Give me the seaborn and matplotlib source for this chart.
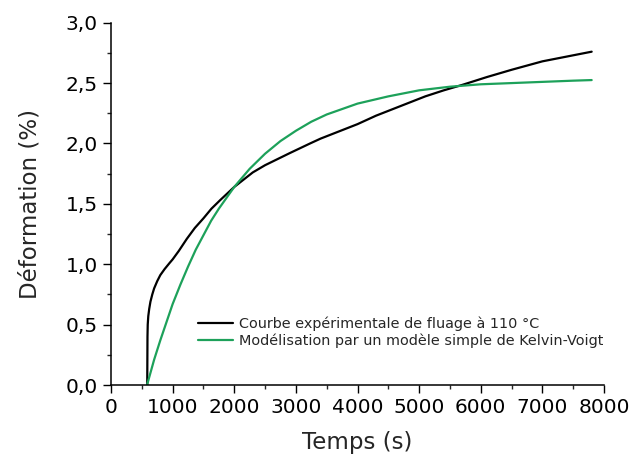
import numpy as np
import pandas as pd
import matplotlib
matplotlib.use("Agg")
import matplotlib.pyplot as plt
import seaborn as sns

# ---- data ----
t_exp = [588, 590, 592, 596, 605, 620, 640, 670, 700, 750, 800, 870, 950, 1000,
         1100, 1230, 1360, 1500, 1630, 1770, 2000, 2150, 2300, 2500, 2700, 2900,
         3230, 3400, 3700, 4000, 4300, 4700, 5100, 5400, 5700, 6100, 6500, 6750,
         7000, 7400, 7800]
eps_exp = [0.00, 0.20, 0.40, 0.50, 0.57, 0.63, 0.69, 0.75, 0.80, 0.86, 0.91, 0.96,
           1.01, 1.04, 1.11, 1.21, 1.30, 1.38, 1.46, 1.53, 1.64, 1.70, 1.76, 1.82,
           1.87, 1.92, 2.00, 2.04, 2.10, 2.16, 2.23, 2.31, 2.39, 2.44, 2.485, 2.55,
           2.61, 2.645, 2.68, 2.72, 2.76]

t_mod = [585, 700, 800, 900, 1000, 1125, 1250, 1375, 1500, 1625, 1750, 1875, 2000,
         2250, 2500, 2750, 3000, 3250, 3500, 4000, 4500, 5000, 5500, 6000, 6500,
         7000, 7500, 7800]
eps_mod = [0.00, 0.21, 0.37, 0.52, 0.67, 0.83, 0.98, 1.12, 1.24, 1.36, 1.46, 1.55,
           1.64, 1.79, 1.915, 2.02, 2.105, 2.18, 2.24, 2.33, 2.39, 2.44, 2.47, 2.49,
           2.50, 2.51, 2.52, 2.525]

series_names = ["Courbe expérimentale de fluage à 110 °C",
                "Modélisation par un modèle simple de Kelvin-Voigt"]
series_colors = ["#000000", "#1DA15A"]

x_ticks = [0, 1000, 2000, 3000, 4000, 5000, 6000, 7000, 8000]
x_tick_labels = ["0", "1000", "2000", "3000", "4000", "5000", "6000", "7000", "8000"]
y_ticks = [0.0, 0.5, 1.0, 1.5, 2.0, 2.5, 3.0]
y_tick_labels = ["0,0", "0,5", "1,0", "1,5", "2,0", "2,5", "3,0"]

x_label = "Temps (s)"
y_label = "Déformation (%)"

# ---- figure ----
sns.set_style("ticks")
plt.rcParams["font.family"] = ["DejaVu Sans"]

df = pd.concat([
    pd.DataFrame({"t": t_exp, "eps": eps_exp, "serie": series_names[0]}),
    pd.DataFrame({"t": t_mod, "eps": eps_mod, "serie": series_names[1]}),
], ignore_index=True)

fig = plt.figure(figsize=(6.3, 4.61), dpi=100)
ax = fig.add_axes([111 / 630, 1 - 385 / 461, 493 / 630, 362.3 / 461])

sns.lineplot(data=df, x="t", y="eps", hue="serie", palette=series_colors,
             estimator=None, sort=False, linewidth=1.6, ax=ax)

ax.set_xlim(0, 8000)
ax.set_ylim(0, 3.0)
ax.set_xticks(x_ticks)
ax.set_xticklabels(x_tick_labels)
ax.set_yticks(y_ticks)
ax.set_yticklabels(y_tick_labels)
ax.set_xticks(np.arange(500, 8000, 1000), minor=True)
ax.set_yticks(np.arange(0.25, 3.0, 0.5), minor=True)

ax.tick_params(axis="both", which="major", direction="out", length=5.5, width=1.0,
               labelsize=14.5, pad=4, colors="black")
ax.tick_params(axis="both", which="minor", direction="out", length=3, width=1.0)

sns.despine(ax=ax)
for s in ["left", "bottom"]:
    ax.spines[s].set_linewidth(1.1)
    ax.spines[s].set_color("black")

ax.set_xlabel(x_label, fontsize=16.5, labelpad=10)
ax.set_ylabel(y_label, fontsize=16.5, labelpad=17)

leg = ax.legend(loc="upper left", bbox_to_anchor=(0.1765, 0.19), frameon=False,
                fontsize=10.4, handlelength=2.4, handletextpad=0.45,
                borderpad=0, borderaxespad=0, labelspacing=0.22)
for line in leg.get_lines():
    line.set_linewidth(1.6)

fig.savefig("out.png", dpi=100)
